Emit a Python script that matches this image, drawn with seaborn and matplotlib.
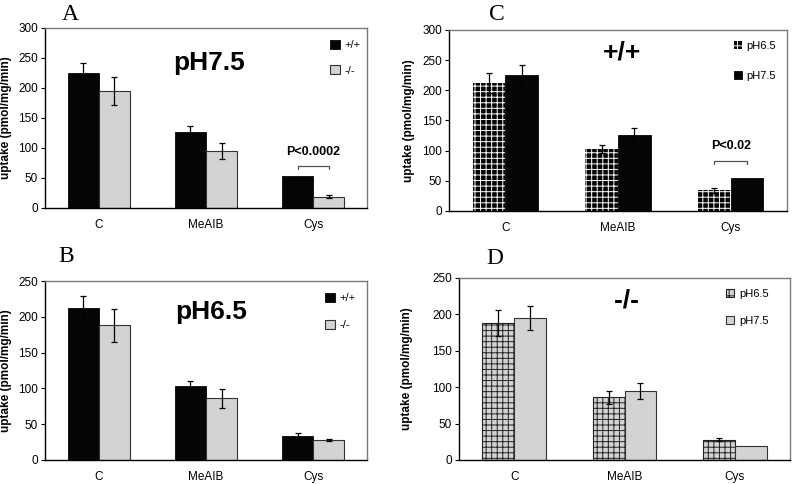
import matplotlib
matplotlib.use('Agg')
import matplotlib.pyplot as plt
import pandas as pd
import seaborn as sns
from matplotlib.patches import Patch

# Data (uptake, pmol/mg/min)
categories = ['C', 'MeAIB', 'Cys']
wt_ph75 = [225, 126, 54]
wt_ph75_err = [17, 11, 0]
ko_ph75 = [195, 95, 19]
ko_ph75_err = [23, 13, 2]
wt_ph65 = [212, 103, 34]
wt_ph65_err = [17, 7, 4]
ko_ph65 = [188, 86, 28]
ko_ph65_err = [23, 13, 2]
# panel D error bars look a bit different, read separately
ko_ph65_err_d = [18, 9, 2]
ko_ph75_err_d = [17, 11, 0]

sns.set_theme(style='white')
plt.rcParams['font.family'] = ['Liberation Sans', 'DejaVu Sans']
plt.rcParams['hatch.linewidth'] = 0.7
for key in ['text.color', 'axes.labelcolor', 'xtick.color', 'ytick.color']:
    plt.rcParams[key] = 'black'

BLACK = '#050505'
GREY = '#d3d3d3'

black_solid = dict(face=BLACK, edge=BLACK, hatch=None, lw=0.6)
grey_solid = dict(face=GREY, edge='#333333', hatch=None, lw=0.8)
black_grid = dict(face=BLACK, edge='white', hatch='+++', lw=0)
grey_grid = dict(face=GREY, edge='#222222', hatch='+++', lw=0.8)


def panel(fig, rect, series, ymax, ylab_x, title, title_xy, leg_xy, leg_space,
          handle_sz, pval=None):
    ax = fig.add_axes(rect)
    names = [s[0] for s in series]
    df = pd.DataFrame({
        'cat': categories * len(series),
        'group': sum([[s[0]] * len(categories) for s in series], []),
        'value': sum([list(s[1]) for s in series], []),
    })
    pal = {s[0]: s[3]['face'] for s in series}
    sns.barplot(data=df, x='cat', y='value', hue='group', hue_order=names,
                order=categories, palette=pal, width=0.58, errorbar=None,
                saturation=1, legend=False, ax=ax)

    handles = []
    for cont, (name, vals, errs, st) in zip(ax.containers, series):
        xs, ys, es = [], [], []
        for bar, v, e in zip(cont, vals, errs):
            bar.set_facecolor(st['face'])
            bar.set_edgecolor(st['edge'])
            bar.set_linewidth(st['lw'])
            if st['hatch']:
                bar.set_hatch(st['hatch'])
            if e > 0:
                xs.append(bar.get_x() + bar.get_width() / 2)
                ys.append(v)
                es.append(e)
        ax.errorbar(xs, ys, yerr=es, fmt='none', ecolor='black',
                    elinewidth=0.9, capsize=2.5, capthick=0.9, zorder=5)
        handles.append(Patch(facecolor=st['face'], edgecolor=st['edge'],
                             hatch=st['hatch'] and '++', linewidth=st['lw']))

    ax.legend(handles, names, loc='upper left', bbox_to_anchor=leg_xy,
              frameon=False, fontsize=8, handlelength=handle_sz,
              handleheight=handle_sz, handletextpad=0.4,
              labelspacing=leg_space, borderpad=0, borderaxespad=0)

    ax.set_ylim(0, ymax)
    ax.set_xlim(-0.5, 2.5)
    ax.set_yticks(range(0, ymax + 1, 50))
    ax.set_xlabel('')
    ax.set_ylabel('uptake (pmol/mg/min)', fontsize=8.5, fontweight='bold')
    ax.yaxis.set_label_coords(ylab_x, 0.5)
    ax.tick_params(axis='y', left=True, length=3, width=0.8, color='black',
                   labelsize=8.5, pad=2)
    ax.tick_params(axis='x', bottom=False, labelsize=8.5, pad=2)
    for side in ['left', 'bottom']:
        ax.spines[side].set_color('black')
        ax.spines[side].set_linewidth(1)
    for side in ['top', 'right']:
        ax.spines[side].set_color('#7a7a7a')
        ax.spines[side].set_linewidth(1)

    ax.text(title_xy[0], title_xy[1], title, transform=ax.transAxes,
            ha='center', va='center', fontsize=19, fontweight='bold')

    if pval is not None:
        label, y_br, y_txt = pval
        b0 = ax.containers[0][2]
        b1 = ax.containers[1][2]
        x0 = b0.get_x() + b0.get_width() / 2
        x1 = b1.get_x() + b1.get_width() / 2
        ax.plot([x0, x0, x1, x1], [y_br - 5, y_br, y_br, y_br - 5],
                color='#555555', lw=0.9)
        ax.text((x0 + x1) / 2, y_txt, label, ha='center', va='center',
                fontsize=9, fontweight='bold')
    return ax


W, H = 793, 484
fig = plt.figure(figsize=(W / 100, H / 100), dpi=100)


def rect(l, t, r, b):
    return [l / W, 1 - b / H, (r - l) / W, (b - t) / H]


# A: pH 7.5, +/+ vs -/-
panel(fig, rect(45, 28, 367, 208),
      [('+/+', wt_ph75, wt_ph75_err, black_solid),
       ('-/-', ko_ph75, ko_ph75_err, grey_solid)],
      300, -0.102, 'pH7.5', (0.51, 0.805), (0.885, 0.935), 1.35, 0.9,
      pval=('P<0.0002', 70, 93))

# B: pH 6.5, +/+ vs -/-
panel(fig, rect(45, 281, 367, 460),
      [('+/+', wt_ph65, wt_ph65_err, black_solid),
       ('-/-', ko_ph65, ko_ph65_err, grey_solid)],
      250, -0.102, 'pH6.5', (0.515, 0.827), (0.87, 0.935), 1.5, 0.9)

# C: +/+, pH6.5 vs pH7.5
panel(fig, rect(449, 30, 787, 211),
      [('pH6.5', wt_ph65, wt_ph65_err, black_grid),
       ('pH7.5', wt_ph75, wt_ph75_err, black_solid)],
      300, -0.10, '+/+', (0.512, 0.873), (0.843, 0.94), 1.8, 0.7,
      pval=('P<0.02', 83, 108))

# D: -/-, pH6.5 vs pH7.5
panel(fig, rect(459, 278, 790, 460),
      [('pH6.5', ko_ph65, ko_ph65_err_d, grey_grid),
       ('pH7.5', ko_ph75, ko_ph75_err_d, grey_solid)],
      250, -0.14, '-/-', (0.507, 0.879), (0.807, 0.94), 1.5, 0.75)

for letter, (px, py) in zip('ACBD', [(70, 14), (497, 14), (66, 256), (495, 259)]):
    fig.text(px / W, 1 - py / H, letter, family='Liberation Serif',
             fontsize=17, ha='center', va='center')

fig.savefig('out.png', dpi=100)
